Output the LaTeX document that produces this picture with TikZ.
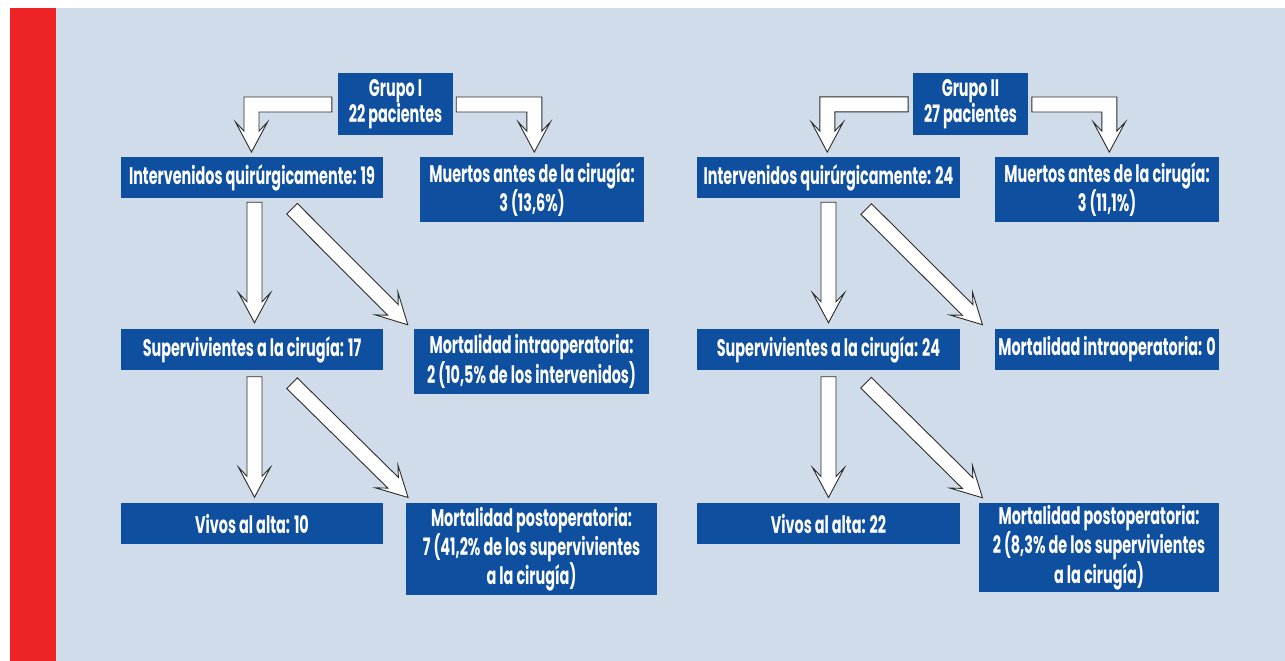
\documentclass[tikz,border=0pt]{standalone}
\usepackage{fontspec}
\setmainfont{Poppins}[FakeStretch=0.6]
\usetikzlibrary{calc}
\definecolor{bgblue}{HTML}{D0DCEA}
\definecolor{redbar}{HTML}{EE2326}
\definecolor{boxblue}{HTML}{0E4FA0}
\definecolor{outl}{HTML}{2B2B2B}
\tikzset{
  box/.style={fill=boxblue, text=white, inner sep=0pt, align=center,
    font=\fontsize{24}{23.5}\selectfont\bfseries, anchor=center},
  fat/.style={fill=white, draw=outl, line width=0.9pt, line join=miter},
}
\newcommand\fatarrow[2]{%
  \draw[fat] let \p1=#1, \p2=#2,
    \n1={atan2(\y2-\y1,\x2-\x1)},
    \n2={veclen(\x2-\x1,\y2-\y1)-21pt},
    \n3={veclen(\x2-\x1,\y2-\y1)-30pt},
    \n4={atan2(\y2-\y1,\x2-\x1)+90},
    \n5={atan2(\y2-\y1,\x2-\x1)-90}
  in ($(\p1)+(\n4:7.5pt)$)
  -- ($(\p1)+(\n1:\n2)+(\n4:7.5pt)$)
  -- ($(\p1)+(\n1:\n3)+(\n4:16pt)$)
  -- (\p2)
  -- ($(\p1)+(\n1:\n3)+(\n5:16pt)$)
  -- ($(\p1)+(\n1:\n2)+(\n5:7.5pt)$)
  -- ($(\p1)+(\n5:7.5pt)$) -- cycle;}
\newcommand\lfatarrow[2]{%
  \draw[fat] let \p1=#1, \p2=#2, \n1={(\x2-\x1)/abs(\x2-\x1)} in
  (\x1,\y1+7.5pt) -- (\x2+\n1*7.5pt,\y1+7.5pt) -- (\x2+\n1*7.5pt,\y2+21pt)
  -- (\x2+\n1*16pt,\y2+30pt) -- (\p2) -- (\x2-\n1*16pt,\y2+30pt)
  -- (\x2-\n1*7.5pt,\y2+21pt) -- (\x2-\n1*7.5pt,\y1-7.5pt) -- (\x1,\y1-7.5pt) -- cycle;}
\begin{document}
\begin{tikzpicture}[x=1pt,y=-1pt]
\useasboundingbox (0,0) rectangle (1285,661);
\fill[bgblue] (56,8) rectangle (1285,661);
\fill[redbar] (10,8) rectangle (56,661);
% Group I
\node[box, minimum width=115pt, minimum height=62pt] (g1) at (395.5,104) {Grupo I\\22 pacientes};
\node[box, minimum width=262pt, minimum height=41pt] (i1) at (252,177.5) {Intervenidos quirúrgicamente: 19};
\node[box, minimum width=224pt, minimum height=65pt] (m1) at (532,189.5) {Muertos antes de la cirugía:\\3 (13,6\%)};
\node[box, minimum width=262pt, minimum height=41pt] (s1) at (252,349.5) {Supervivientes a la cirugía: 17};
\node[box, minimum width=235pt, minimum height=65pt] (mi1) at (531.5,361.5) {Mortalidad intraoperatoria:\\2 (10,5\% de los intervenidos)};
\node[box, minimum width=262pt, minimum height=41pt] (v1) at (252,523.5) {Vivos al alta: 10};
\node[box, minimum width=251pt, minimum height=92pt] (mp1) at (531.5,549) {Mortalidad postoperatoria:\\7 (41,2\% de los supervivientes\\a la cirugía)};
% Group II
\node[box, minimum width=115pt, minimum height=62pt] (g2) at (970.5,104) {Grupo II\\27 pacientes};
\node[box, minimum width=263pt, minimum height=41pt] (i2) at (828.5,177.5) {Intervenidos quirúrgicamente: 24};
\node[box, minimum width=224pt, minimum height=65pt] (m2) at (1107,189.5) {Muertos antes de la cirugía:\\3 (11,1\%)};
\node[box, minimum width=263pt, minimum height=41pt] (s2) at (828.5,349.5) {Supervivientes a la cirugía: 24};
\node[box, minimum width=224pt, minimum height=41pt] (mi2) at (1107,349.5) {Mortalidad intraoperatoria: 0};
\node[box, minimum width=263pt, minimum height=41pt] (v2) at (828.5,523.5) {Vivos al alta: 22};
\node[box, minimum width=240pt, minimum height=89pt] (mp2) at (1099,547.5) {Mortalidad postoperatoria:\\2 (8,3\% de los supervivientes\\a la cirugía)};
% arrows group I
\lfatarrow{($(g1.west)+(-6,0.5)$)}{($(i1.north)+(-0.5,-4.7)$)}
\lfatarrow{($(g1.east)+(3,0.5)$)}{($(m1.north)+(2.3,-4.7)$)}
\fatarrow{($(i1.south)+(2.5,4)$)}{($(s1.north)+(2.5,-6)$)}
\fatarrow{($(i1.south)+(40,10.5)$)}{($(mi1.north west)+(-6,-4)$)}
\fatarrow{($(s1.south)+(2.5,6.5)$)}{($(v1.north)+(2.5,-5.5)$)}
\fatarrow{($(s1.south)+(40,13)$)}{($(mp1.north west)+(2.3,-5.3)$)}
% arrows group II
\lfatarrow{($(g2.west)+(-4.7,0.3)$)}{($(i2.north)+(-1.2,-4.7)$)}
\lfatarrow{($(g2.east)+(3.7,0.5)$)}{($(m2.north)+(2.3,-4.7)$)}
\fatarrow{($(i2.south)+(0,4)$)}{($(s2.north)+(0,-6)$)}
\fatarrow{($(i2.south)+(37.7,10.8)$)}{($(mi2.north west)+(-12.3,-4)$)}
\fatarrow{($(s2.south)+(0,6.5)$)}{($(v2.north)+(0,-5.3)$)}
\fatarrow{($(s2.south)+(37.5,12.5)$)}{($(mp2.north west)+(3.7,-5)$)}
\end{tikzpicture}
\end{document}
